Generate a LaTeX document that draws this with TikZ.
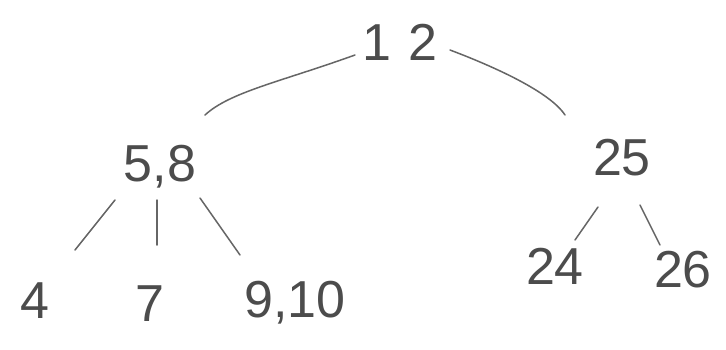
\documentclass[tikz,border=0pt]{standalone}
\usepackage{fontspec}
\setmainfont{Liberation Sans}
\begin{document}
\begin{tikzpicture}[x=1pt,y=-1pt,
  key/.style={inner sep=0pt, text=black!70, font=\fontsize{52}{52}\selectfont},
  edge/.style={draw=black!60, line width=1.5pt, line cap=round}]
\useasboundingbox[fill=white] (0,0) rectangle (726,349);
\node[key] (root) at (400,42) {1\,\,2};
\node[key] (l) at (160,167) {5,8};
\node[key] (r) at (622,158) {25};
\node[key] (a) at (35,301) {4};
\node[key] (b) at (150,304) {7};
\node[key] (c) at (295,303) {9,10};
\node[key] (d) at (555,266) {24};
\node[key] (e) at (683,270) {26};
\draw[edge] ([shift={(-45,13)}]root.center) .. controls ([shift={(-120,40)}]root.center) and ([shift={(-170,50)}]root.center) .. ([shift={(-195,73)}]root.center);
\draw[edge] ([shift={(50,8)}]root.center) .. controls ([shift={(95,25)}]root.center) and ([shift={(150,50)}]root.center) .. ([shift={(165,73)}]root.center);
\draw[edge] ([shift={(-45,33)}]l.center) -- ([shift={(-85,83)}]l.center);
\draw[edge] ([shift={(-3,33)}]l.center) -- ([shift={(-3,78)}]l.center);
\draw[edge] ([shift={(40,31)}]l.center) -- ([shift={(80,88)}]l.center);
\draw[edge] ([shift={(-24,49)}]r.center) -- ([shift={(-47,82)}]r.center);
\draw[edge] ([shift={(18,47)}]r.center) -- ([shift={(38,87)}]r.center);
\end{tikzpicture}
\end{document}
